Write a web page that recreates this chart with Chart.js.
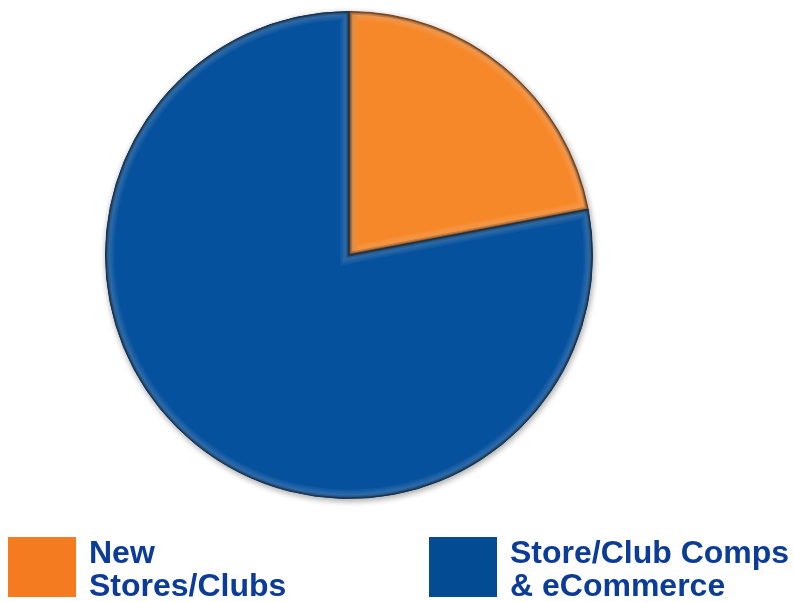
<!DOCTYPE html>
<html>
<head>
<meta charset="utf-8">
<script src="https://cdn.jsdelivr.net/npm/chart.js@4/dist/chart.umd.min.js"></script>
<style>
  html, body { margin: 0; padding: 0; background: #fff; }
  #wrap { position: relative; width: 794px; height: 602px; overflow: hidden; }
  #pie { position: absolute; left: 0; top: 0; }
  .item { position: absolute; top: 537px; display: flex; align-items: flex-start; }
  .box { width: 68px; height: 60px; flex: none; }
  .txt { margin-left: 13px; margin-top: -1px; font: bold 32px "Liberation Sans", Arial, sans-serif; line-height: 33px; color: #0A3C98; white-space: nowrap; }
</style>
</head>
<body>
<div id="wrap">
  <canvas id="pie" width="794" height="602"></canvas>
</div>
<script>
window.addEventListener("load", () => {

    // data
    const labels = ['New Stores/Clubs', 'Store/Club Comps & eCommerce']
    const legendLines = [['New', 'Stores/Clubs'], ['Store/Club Comps', '& eCommerce']]
    const shares = [22, 78]
    const colors = ['#F7882A', '#06519D']
    const legendColors = ['#F47B20', '#034C94']
    const edgeColors = ['#8F4408', '#022A55']
    const legendX = [8, 429]

    // soft shadow round the slices
    const shade = {
        id: 'shade',
        beforeDatasetDraw(chart) {
            const ctx = chart.ctx
            ctx.save()
            ctx.shadowColor = 'rgba(0,0,0,0.35)'
            ctx.shadowBlur = 6
            ctx.shadowOffsetX = 1
            ctx.shadowOffsetY = 2
        },
        afterDatasetDraw(chart) {
            chart.ctx.restore()
        }
    }

    // rough bevel: soft light rim inside each slice, dark line at its edge
    const bevel = {
        id: 'bevel',
        afterDatasetsDraw(chart) {
            const ctx = chart.ctx
            chart.getDatasetMeta(0).data.forEach(arc => {
                const { x, y, startAngle, endAngle, outerRadius } = arc.getProps(['x', 'y', 'startAngle', 'endAngle', 'outerRadius'], true)
                ctx.save()
                ctx.beginPath()
                ctx.moveTo(x, y)
                ctx.arc(x, y, outerRadius, startAngle, endAngle)
                ctx.closePath()
                ctx.clip()
                ctx.lineJoin = 'miter'
                for (let w = 18; w >= 6; w -= 3) {
                    ctx.strokeStyle = 'rgba(255,255,255,0.045)'
                    ctx.lineWidth = w
                    ctx.stroke()
                }
                ctx.strokeStyle = 'rgba(0,0,0,0.18)'
                ctx.lineWidth = 6
                ctx.stroke()
                ctx.strokeStyle = 'rgba(0,0,0,0.3)'
                ctx.lineWidth = 3
                ctx.stroke()
                ctx.restore()
            })
        }
    }

    new Chart(document.getElementById('pie'), {
        type: 'pie',
        data: {
            labels: labels,
            datasets: [{
                data: shares,
                backgroundColor: colors,
                borderColor: edgeColors,
                borderWidth: 1,
                hoverOffset: 0
            }]
        },
        plugins: [shade, bevel],
        options: {
            responsive: false,
            animation: false,
            layout: { padding: { left: 105, top: 11, right: 201, bottom: 103 } },
            plugins: {
                legend: { display: false },
                tooltip: { enabled: false }
            }
        }
    })

    // legend below the pie
    const wrap = document.getElementById('wrap')
    labels.forEach((name, i) => {
        const item = document.createElement('div')
        item.className = 'item'
        item.style.left = legendX[i] + 'px'
        const box = document.createElement('div')
        box.className = 'box'
        box.style.background = legendColors[i]
        const txt = document.createElement('div')
        txt.className = 'txt'
        legendLines[i].forEach(line => {
            const row = document.createElement('div')
            row.textContent = line
            txt.appendChild(row)
        })
        txt.title = name
        item.appendChild(box)
        item.appendChild(txt)
        wrap.appendChild(item)
    })
})
</script>
</body>
</html>
